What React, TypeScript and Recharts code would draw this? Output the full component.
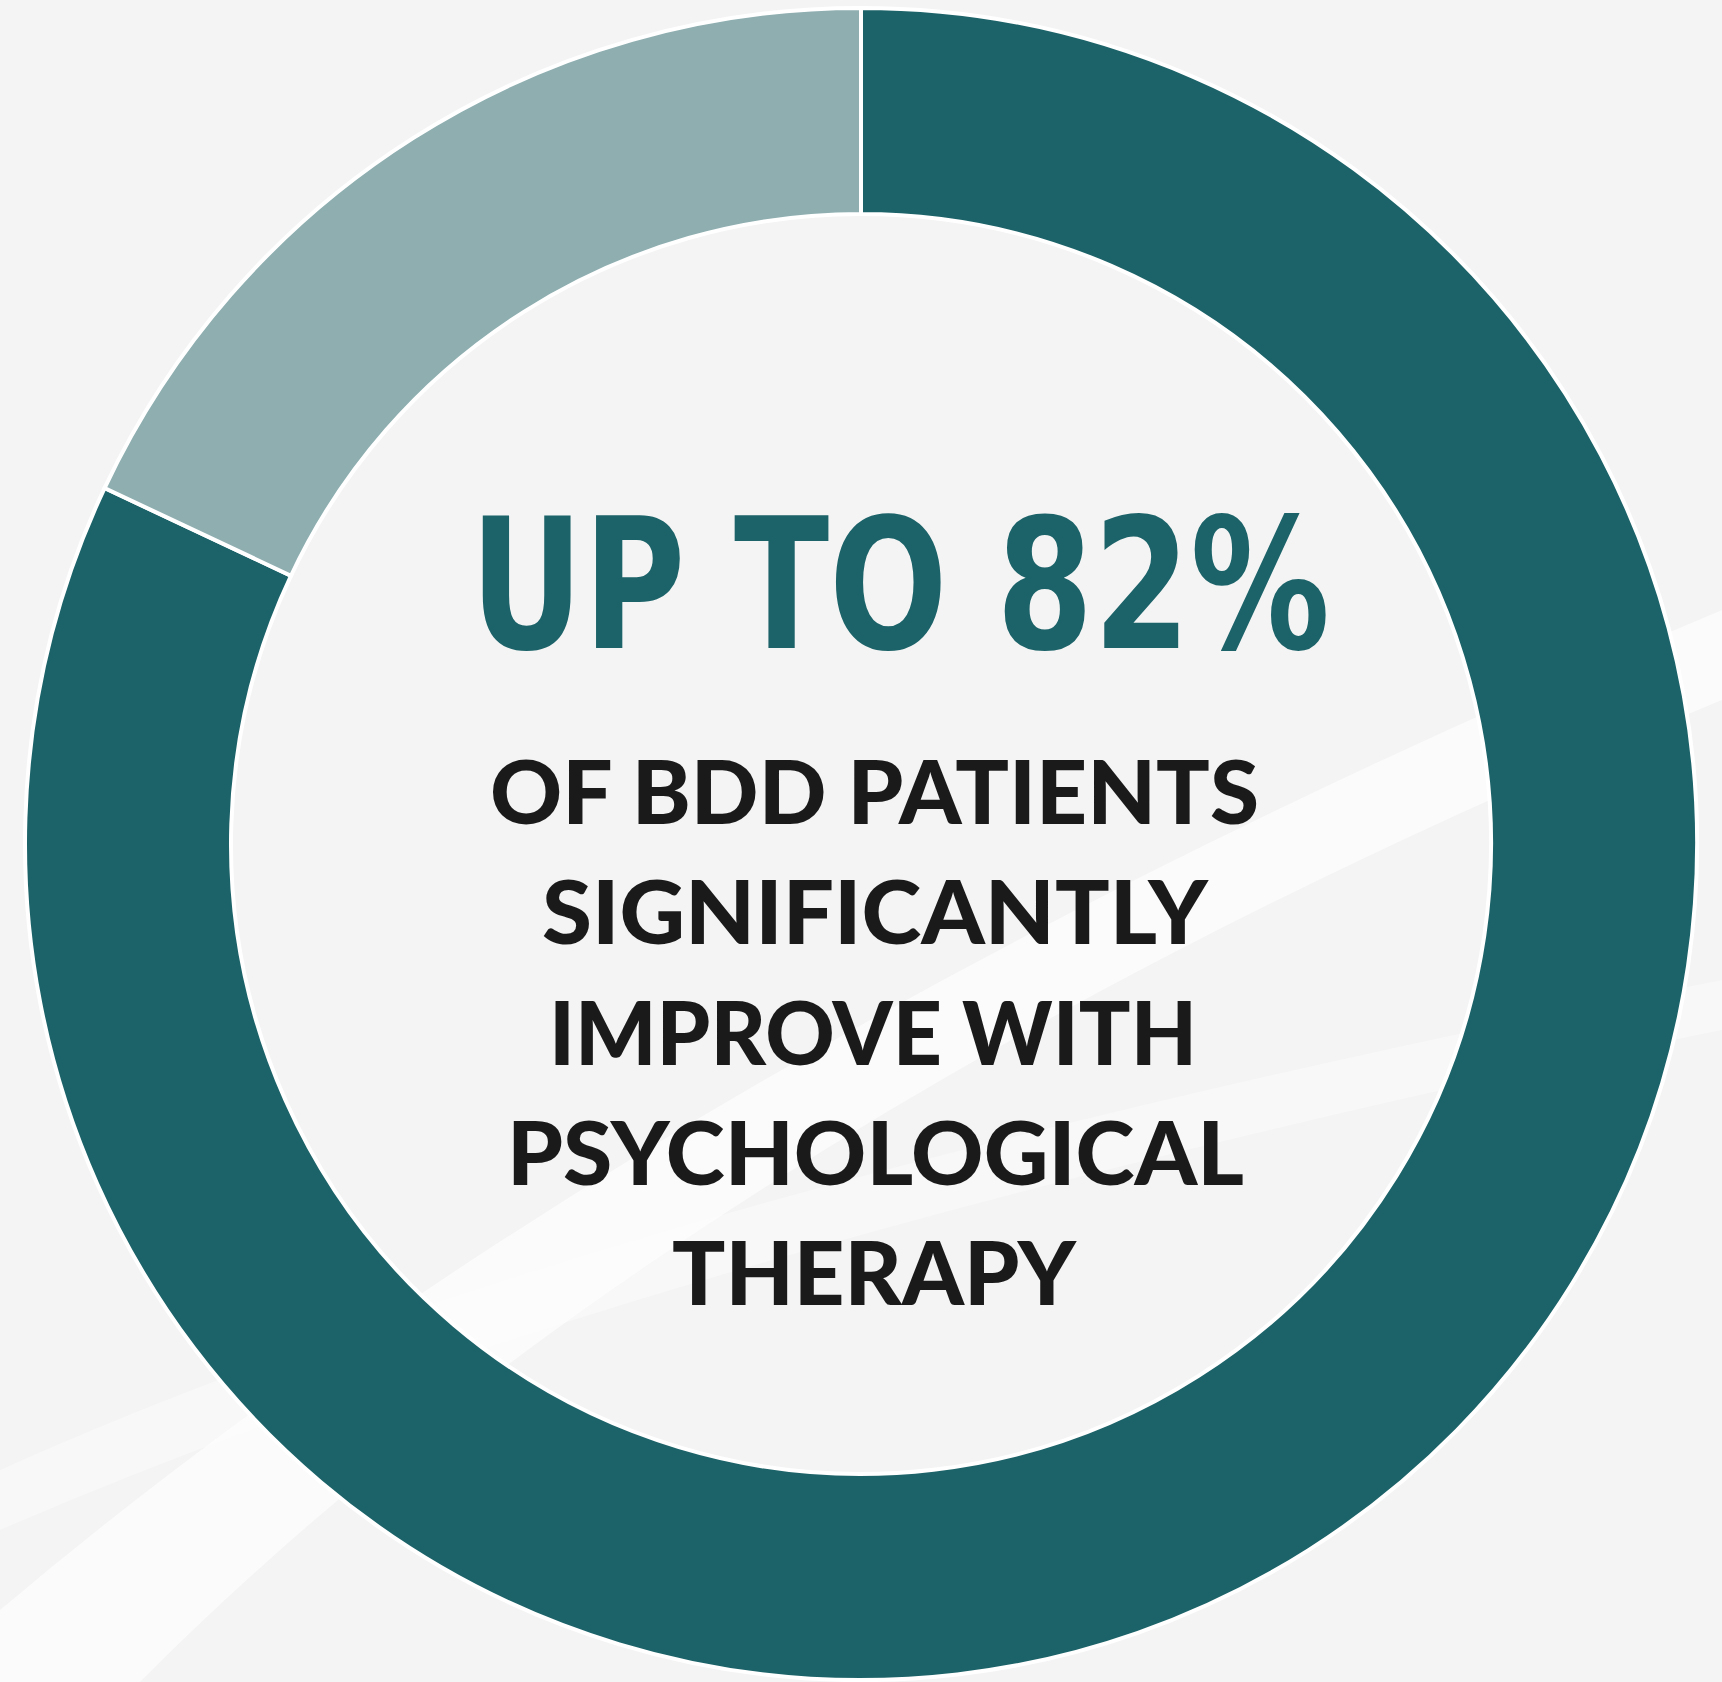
import React from "react";
import { PieChart, Pie, Cell } from "recharts";

const categories = ["Significantly improve", "Other"];
const values = [82, 18];
const sliceColors = ["#1c6369", "#8eaeb0"];
const headline = "UP TO 82%";
const bodyLines = ["OF BDD PATIENTS", "SIGNIFICANTLY", "IMPROVE WITH", "PSYCHOLOGICAL", "THERAPY"];

const data = categories.map((name, i) => ({ name, value: values[i] }));

const W = 1722;
const H = 1682;

// layout of text lines: [left, baseline, width]
const bodyLayout: [number, number, number][] = [
  [490, 824, 769],
  [542, 944, 666],
  [549, 1065, 648],
  [507, 1185, 737],
  [672, 1305, 404],
];

export default function App() {
  return (
    <div
      style={{
        position: "absolute",
        left: 0,
        top: 0,
        width: W,
        height: H,
        background: "#f4f4f4",
        overflow: "hidden",
      }}
    >
      <svg width={W} height={H} style={{ position: "absolute", left: 0, top: 0 }}>
        <path
          d="M0,1682 L0,1610 Q650,1060 1722,610 L1722,700 Q700,1120 140,1682 Z"
          fill="#ffffff"
          opacity={0.6}
        />
        <path
          d="M0,1470 Q600,1200 1722,980 L1722,1030 Q650,1250 0,1530 Z"
          fill="#ffffff"
          opacity={0.35}
        />
      </svg>
      <div style={{ position: "absolute", left: 0, top: 0 }}>
        <PieChart width={W} height={H} margin={{ top: 0, right: 0, bottom: 0, left: 0 }}>
          <Pie
            data={data}
            dataKey="value"
            nameKey="name"
            cx={861}
            cy={844}
            innerRadius={630}
            outerRadius={836}
            startAngle={90}
            endAngle={-270}
            stroke="#ffffff"
            strokeWidth={4}
            isAnimationActive={false}
          >
            {data.map((d, i) => (
              <Cell key={d.name} fill={sliceColors[i]} />
            ))}
          </Pie>
        </PieChart>
      </div>
      <svg width={W} height={H} style={{ position: "absolute", left: 0, top: 0 }}>
        <text
          x={470}
          y={648}
          fontFamily="'DejaVu Sans Condensed', 'DejaVu Sans', sans-serif"
          fontStretch="condensed"
          fontWeight={700}
          fontSize={181}
          fill="#1c6369"
          textLength={860}
          lengthAdjust="spacingAndGlyphs"
        >
          {headline}
        </text>
        {bodyLines.map((line, i) => (
          <text
            key={line}
            x={bodyLayout[i][0]}
            y={bodyLayout[i][1]}
            fontFamily="Lato, 'Open Sans', sans-serif"
            fontWeight={900}
            fontSize={88}
            fill="#1a1a1a"
            textLength={bodyLayout[i][2]}
            lengthAdjust="spacingAndGlyphs"
          >
            {line}
          </text>
        ))}
      </svg>
    </div>
  );
}
